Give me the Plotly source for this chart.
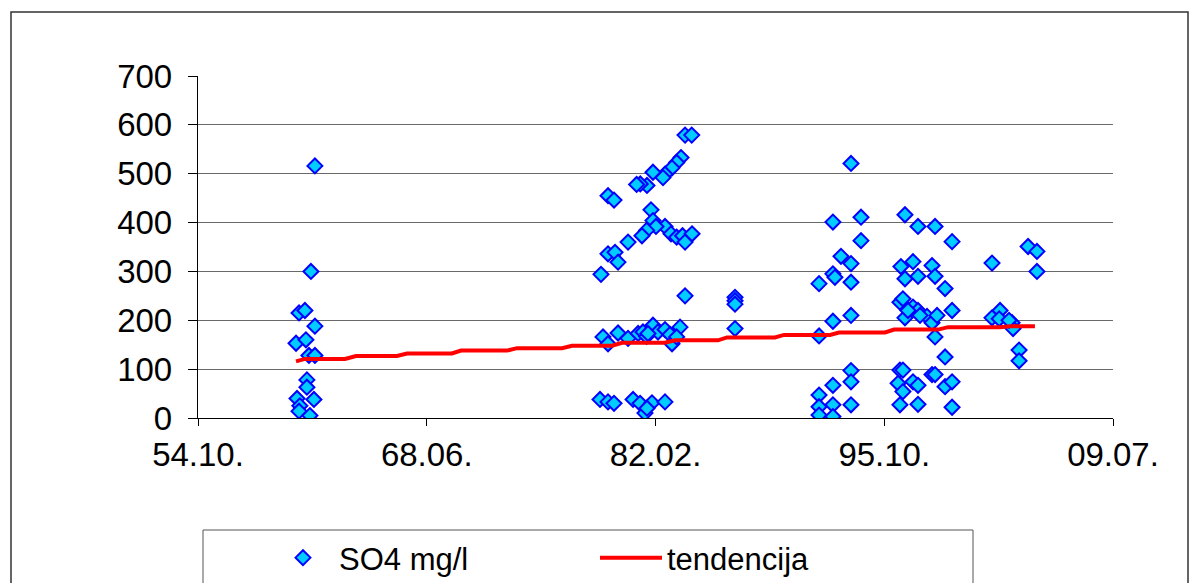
import pandas as pd
import plotly.graph_objects as go

# Sampling dates as decimal years, SO4 concentrations in mg/l
so4_years = [
    1960.62, 1960.80, 1961.15, 1961.51, 1961.75, 1961.75, 1961.21, 1961.39, 1961.75,
    1961.27, 1961.27, 1960.68, 1961.69, 1960.85, 1960.80, 1961.45,
    1983.90, 1984.30, 1983.66, 1983.40, 1983.12, 1982.70, 1982.58, 1981.98,
    1981.62, 1981.22, 1981.00, 1979.29, 1979.65, 1981.86,
    1981.98, 1982.70, 1982.16, 1981.60, 1981.32, 1983.06, 1983.40, 1983.75, 1983.90, 1984.32,
    1980.49, 1979.29, 1979.71, 1979.89, 1978.87, 1983.90,
    1978.99, 1979.29, 1979.89, 1980.49, 1981.09, 1981.38, 1981.60, 1981.98, 1982.28,
    1982.70, 1983.00, 1983.12, 1983.60, 1983.40, 1981.68,
    1978.81, 1979.29, 1979.65, 1980.79, 1981.21, 1981.50, 1981.92, 1982.70, 1981.62,
    1986.89, 1986.89, 1986.89, 1986.89,
    1993.83, 1992.75, 1994.43, 1994.43, 1993.23, 1993.83, 1992.75, 1992.87, 1991.92,
    1993.83, 1992.75, 1993.83, 1991.92, 1993.83, 1993.83, 1992.75, 1991.92, 1991.92,
    1992.75, 1993.83, 1991.92, 1992.75,
    1997.06, 1997.84, 1998.86, 1999.88, 1996.82, 1997.54, 1997.06, 1997.84, 1998.68,
    1998.86, 1999.46, 1996.76, 1996.94, 1997.06, 1997.54, 1997.84, 1998.38, 1998.68,
    1998.98, 1999.88, 1998.86, 1997.24, 1997.96, 1996.76, 1996.94, 1999.46, 1998.68,
    1998.86, 1996.65, 1997.54, 1997.84, 1999.46, 1999.88, 1996.76, 1997.84, 1999.88,
    1996.94,
    2002.27, 2004.43, 2004.96, 2004.96, 2002.27, 2002.75, 2002.70, 2003.47, 2003.53,
    2003.89, 2003.89, 2003.29,
]
so4_values = [
    153, 215, 220, 300, 516, 188, 160, 128, 128,
    78, 63, 40, 38, 25, 14, 5,
    579, 579, 533, 523, 512, 499, 492, 503,
    476, 479, 478, 455, 446, 426,
    404, 392, 392, 384, 373, 377, 370, 373, 360, 377,
    360, 336, 339, 319, 294, 250,
    166, 152, 174, 163, 173, 176, 167, 190, 176,
    181, 171, 152, 186, 166, 173,
    38, 33, 30, 38, 30, 10, 31, 33, 20,
    247, 240, 233, 183,
    521, 401, 411, 363, 331, 316, 295, 288, 275,
    278, 198, 210, 168, 97, 74, 67, 47, 23,
    27, 27, 6, 3,
    416, 392, 392, 361, 310, 320, 285, 290, 312,
    290, 265, 237, 244, 205, 227, 220, 208, 195,
    210, 220, 166, 220, 210, 98, 98, 125, 89,
    89, 71, 74, 67, 64, 74, 27, 28, 22,
    54,
    317, 351, 341, 300, 205, 220, 203, 195, 183,
    139, 117, 200,
]

# Trend ("tendencija") series
trend_years = [
    1960.62, 1961.15, 1963.55, 1964.21, 1966.66, 1967.26, 1969.95, 1970.49, 1973.24,
    1973.84, 1976.54, 1977.13, 1979.53, 1980.13, 1982.70, 1983.30, 1985.87, 1986.41,
    1989.28, 1989.82, 1992.58, 1993.11, 1995.87, 1996.41, 1999.04, 1999.64, 2002.75,
    2003.35, 2004.84,
]
trend_values = [
    116, 121, 121, 127, 127, 132, 132, 138, 138,
    143, 143, 148, 148, 154, 154, 159, 159, 165,
    165, 170, 170, 175, 175, 181, 181, 186, 186,
    188, 188,
]

# X axis ticks (Excel date axis, major unit 5000 days)
tick_dates = ["1954-10-03", "1968-06-11", "1982-02-18", "1995-10-28", "2009-07-06"]
tick_labels = ["54.10.", "68.06.", "82.02.", "95.10.", "09.07."]


def to_dates(years):
    out = []
    for y in years:
        yi = int(y)
        out.append(pd.Timestamp(year=yi, month=1, day=1) + pd.Timedelta(days=(y - yi) * 365.25))
    return out


FONT = "Liberation Sans, Arial, sans-serif"

fig = go.Figure()
fig.add_trace(go.Scatter(
    x=to_dates(so4_years), y=so4_values, mode="markers", name="SO4 mg/l",
    marker=dict(symbol="diamond", size=11.5, color="#00CCFF",
                line=dict(color="#0000FF", width=2)),
))
fig.add_trace(go.Scatter(
    x=to_dates(trend_years), y=trend_values, mode="lines", name="tendencija",
    line=dict(color="#FF0000", width=4),
))

W, H = 1197, 583
L, R, T, B = 198, 1113, 76, 418
pw, ph = R - L, B - T


def px(x):
    return (x - L) / pw


def py(y):
    return (B - y) / ph


fig.update_layout(
    width=W, height=H,
    margin=dict(l=L, r=W - R, t=T, b=H - B, autoexpand=False),
    paper_bgcolor="white", plot_bgcolor="white",
    font=dict(family=FONT, size=32, color="black"),
    showlegend=True,
    legend=dict(orientation="h", x=px(267), xanchor="left", y=py(558), yanchor="middle",
                font=dict(family=FONT, size=31, color="black"),
                bgcolor="rgba(0,0,0,0)", borderwidth=0,
                entrywidth=251, entrywidthmode="pixels", itemwidth=62),
    xaxis=dict(type="date", range=[tick_dates[0], tick_dates[-1]],
               tickmode="array", tickvals=tick_dates, ticktext=tick_labels,
               showgrid=False, showline=True, linecolor="black", linewidth=1,
               ticks="outside", ticklen=7, tickcolor="black", zeroline=False,
               tickfont=dict(family=FONT, size=33, color="black")),
    yaxis=dict(range=[0, 700], dtick=100, tick0=0, ticksuffix=" ",
               showgrid=True, gridcolor="#6a6a6a", gridwidth=1,
               showline=True, linecolor="black", linewidth=1,
               ticks="outside", ticklen=9, tickcolor="black", zeroline=False,
               tickfont=dict(family=FONT, size=33, color="black")),
    shapes=[
        dict(type="rect", xref="paper", yref="paper",
             x0=px(11), x1=px(1188), y0=py(600), y1=py(12),
             line=dict(color="#333333", width=1.5), layer="below"),
        dict(type="rect", xref="paper", yref="paper",
             x0=px(203), x1=px(973), y0=py(600), y1=py(530),
             line=dict(color="#555555", width=1), layer="below"),
    ],
)

fig.write_html("out.html")
